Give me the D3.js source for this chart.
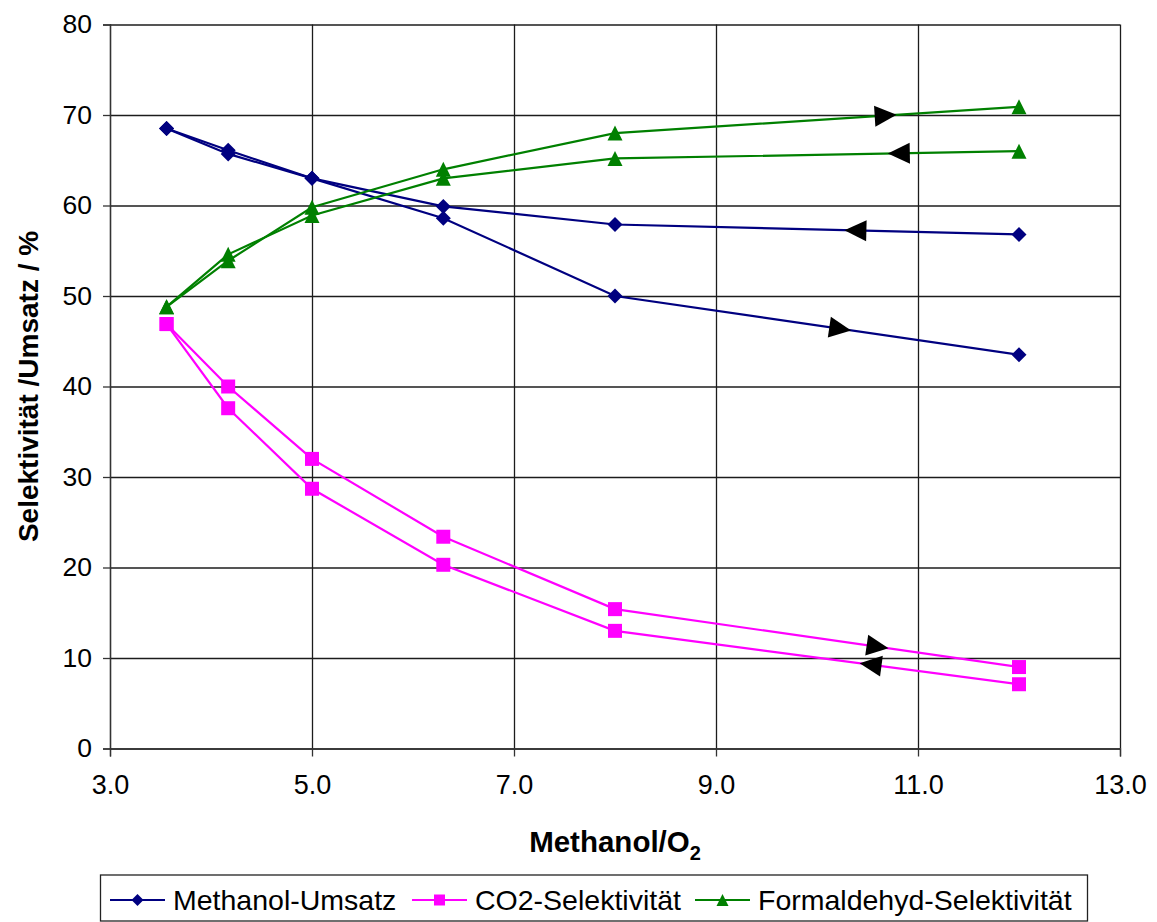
<!DOCTYPE html>
<html>
<head>
<meta charset="utf-8">
<script src="https://cdn.jsdelivr.net/npm/d3@7/dist/d3.min.js"></script>
<style>
  html, body { margin: 0; padding: 0; background: #fff; }
  svg { display: block; font-family: Arial, "Liberation Sans", sans-serif; }
</style>
</head>
<body>
<svg id="chart" width="1157" height="922"></svg>
<script>
// Methanol/O2 ratio of each measurement point
const ratio = [3.56, 4.17, 5.0, 6.3, 8.0, 12.0];

// Run with increasing Methanol/O2 (arrows pointing right)
const umsatzHin = [68.5, 65.7, 63.0, 58.6, 50.0, 43.5];
const co2Hin    = [46.9, 40.0, 32.0, 23.4, 15.4, 9.0];
const hchoHin   = [48.8, 53.9, 59.8, 64.0, 68.0, 70.9];

// Run back with decreasing Methanol/O2 (arrows pointing left)
const umsatzRueck = [68.5, 66.1, 63.0, 59.9, 57.9, 56.8];
const co2Rueck    = [46.9, 37.6, 28.7, 20.3, 13.0, 7.1];
const hchoRueck   = [48.8, 54.6, 58.9, 63.0, 65.2, 66.0];

const xTicks = [3, 5, 7, 9, 11, 13];
const yTicks = [0, 10, 20, 30, 40, 50, 60, 70, 80];

const seriesNames = ["Methanol-Umsatz", "CO2-Selektivität", "Formaldehyd-Selektivität"];

// Direction arrows: which run, where along the Methanol/O2 axis, which way
const arrowRuns = ["hchoHin", "hchoRueck", "umsatzRueck", "umsatzHin", "co2Hin", "co2Rueck"];
const arrowAt   = [10.68, 10.81, 10.38, 10.23, 10.60, 10.53];
const arrowDir  = [1, -1, -1, 1, 1, -1];

(function () {
  const runs = {
    umsatzHin:   { values: umsatzHin,   kind: 0 },
    umsatzRueck: { values: umsatzRueck, kind: 0 },
    co2Hin:      { values: co2Hin,      kind: 1 },
    co2Rueck:    { values: co2Rueck,    kind: 1 },
    hchoHin:     { values: hchoHin,     kind: 2 },
    hchoRueck:   { values: hchoRueck,   kind: 2 }
  };

  const colors = ["#000080", "#FF00FF", "#008000"];

  const svg = d3.select("#chart");
  const plotL = 110, plotR = 1120, plotT = 24.5, plotB = 748.5;

  const x = d3.scaleLinear().domain([3, 13]).range([plotL, plotR]);
  const y = d3.scaleLinear().domain([0, 80]).range([plotB, plotT]);

  // Grid
  svg.append("g")
    .attr("transform", `translate(0,${plotB})`)
    .call(d3.axisBottom(x).tickValues(xTicks).tickSize(-(plotB - plotT)).tickFormat(""))
    .call(g => g.select(".domain").remove())
    .call(g => g.selectAll("line").attr("stroke", "#1c1c1c").attr("stroke-width", 1.3));
  svg.append("g")
    .attr("transform", `translate(${plotL},0)`)
    .call(d3.axisLeft(y).tickValues(yTicks).tickSize(-(plotR - plotL)).tickFormat(""))
    .call(g => g.select(".domain").remove())
    .call(g => g.selectAll("line").attr("stroke", "#1c1c1c").attr("stroke-width", 1.3));

  // Axes
  const xAxis = svg.append("g")
    .attr("transform", `translate(0,${plotB})`)
    .call(d3.axisBottom(x).tickValues(xTicks).tickSize(8).tickPadding(18).tickFormat(d3.format(".1f")));
  const yAxis = svg.append("g")
    .attr("transform", `translate(${plotL},0)`)
    .call(d3.axisLeft(y).tickValues(yTicks).tickSize(7).tickPadding(11).tickFormat(d3.format("d")));
  [xAxis, yAxis].forEach(a => {
    a.select(".domain").attr("stroke", "#333").attr("stroke-width", 1.3);
    a.selectAll(".tick line").attr("stroke", "#333").attr("stroke-width", 1.3);
    a.selectAll("text").attr("fill", "#000").style("font-family", "Arial, 'Liberation Sans', sans-serif");
  });
  xAxis.selectAll("text").style("font-size", "27px");
  yAxis.selectAll("text").style("font-size", "26.5px");

  // Axis titles
  const xt = svg.append("text")
    .attr("x", (plotL + plotR) / 2).attr("y", 852)
    .attr("text-anchor", "middle")
    .style("font-size", "29.5px").style("font-weight", "bold");
  xt.append("tspan").text("Methanol/O");
  xt.append("tspan").attr("dy", 8).style("font-size", "20px").text("2");

  svg.append("text")
    .attr("transform", `translate(38,${(plotT + plotB) / 2}) rotate(-90)`)
    .attr("text-anchor", "middle")
    .style("font-size", "28px").style("font-weight", "bold")
    .text("Selektivität /Umsatz / %");

  // Marker shapes
  function markerPath(kind, s) {
    if (kind === 0) return `M0,${-s}L${s},0L0,${s}L${-s},0Z`;
    if (kind === 1) return `M${-s + 0.5},${-s + 0.5}H${s - 0.5}V${s - 0.5}H${-s + 0.5}Z`;
    return `M0,${-s}L${s},${s}L${-s},${s}Z`;
  }

  const line = d3.line().x(d => x(d[0])).y(d => y(d[1]));

  // Lines
  Object.keys(runs).forEach(k => {
    const r = runs[k];
    const pts = ratio.map((v, i) => [v, r.values[i]]);
    svg.append("path")
      .attr("d", line(pts))
      .attr("fill", "none")
      .attr("stroke", colors[r.kind])
      .attr("stroke-width", 2.2);
  });

  // Markers
  Object.keys(runs).forEach(k => {
    const r = runs[k];
    svg.append("g").selectAll("path")
      .data(ratio.map((v, i) => [v, r.values[i]]))
      .join("path")
      .attr("transform", d => `translate(${x(d[0])},${y(d[1])})`)
      .attr("d", markerPath(r.kind, 7.5))
      .attr("fill", colors[r.kind]);
  });

  // Direction arrows sitting on the run's segment between 8 and 12
  arrowRuns.forEach((k, i) => {
    const vals = runs[k].values;
    const n = ratio.length;
    const x0 = ratio[n - 2], x1 = ratio[n - 1];
    const y0 = vals[n - 2], y1 = vals[n - 1];
    const t = (arrowAt[i] - x0) / (x1 - x0);
    const px = x(arrowAt[i]);
    const py = y(y0 + t * (y1 - y0));
    const ang = Math.atan2(y(y1) - y(y0), x(x1) - x(x0)) * 180 / Math.PI + (arrowDir[i] < 0 ? 180 : 0);
    svg.append("path")
      .attr("transform", `translate(${px},${py}) rotate(${ang})`)
      .attr("d", "M11,0L-11,-10.5L-11,10.5Z")
      .attr("fill", "#000");
  });

  // Legend
  const lg = svg.append("g");
  lg.append("rect")
    .attr("x", 100.5).attr("y", 875).attr("width", 987).attr("height", 46)
    .attr("fill", "#fff").attr("stroke", "#222").attr("stroke-width", 1.3);
  const legendX = [110, 412, 695];
  seriesNames.forEach((name, i) => {
    const g = lg.append("g").attr("transform", `translate(${legendX[i]},900)`);
    g.append("line").attr("x1", 0).attr("x2", 55).attr("y1", 0).attr("y2", 0)
      .attr("stroke", colors[i]).attr("stroke-width", 2.2);
    g.append("path").attr("transform", "translate(27.5,0)")
      .attr("d", markerPath(i, 6)).attr("fill", colors[i]);
    g.append("text").attr("x", 63).attr("y", 10)
      .style("font-size", "28.5px").text(name);
  });
})();
</script>
</body>
</html>
